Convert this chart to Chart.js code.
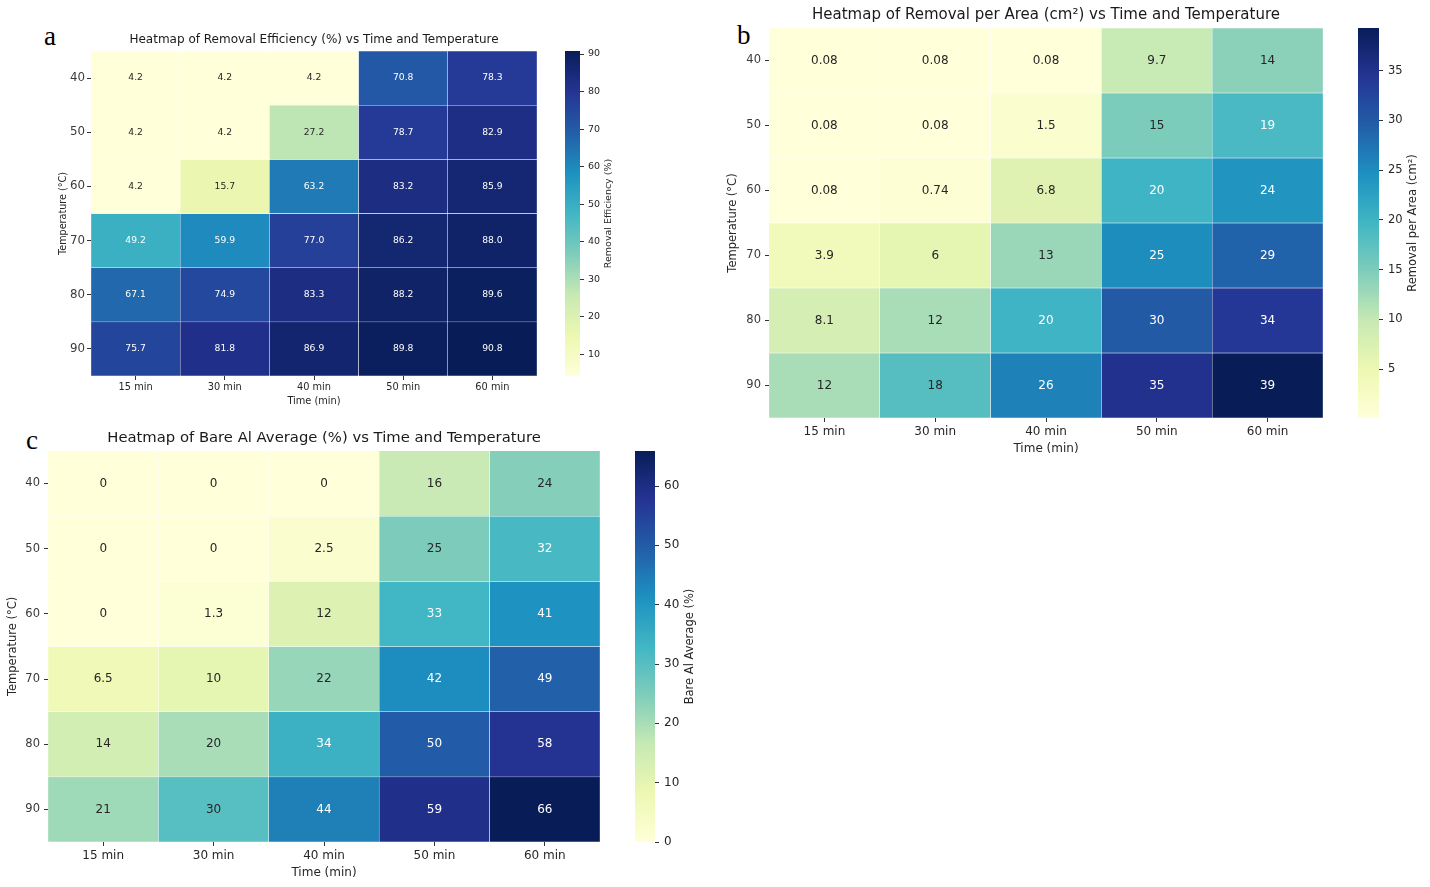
<!DOCTYPE html>
<html>
<head>
<meta charset="utf-8">
<script src="https://cdn.jsdelivr.net/npm/chart.js@4.4.1/dist/chart.umd.min.js"></script>
<style>
  body { margin: 0; background: #fff; width: 1430px; height: 887px; position: relative; overflow: hidden; }
  .box { position: absolute; }
  .letter { position: absolute; font-family: 'Liberation Serif', serif; font-size: 27px; line-height: 27px; color: #000; }
</style>
</head>
<body>
<div class="letter" style="left:44px;top:23px">a</div>
<div class="letter" style="left:737px;top:22px">b</div>
<div class="letter" style="left:26px;top:427px">c</div>

<div class="box" style="left:55px;top:31px;width:482px;height:378px"><canvas id="heatA"></canvas></div>
<div class="box" style="left:565px;top:35px;width:60px;height:357px"><canvas id="barA"></canvas></div>

<div class="box" style="left:724px;top:6px;width:599px;height:452px"><canvas id="heatB"></canvas></div>
<div class="box" style="left:1358px;top:12px;width:71px;height:422px"><canvas id="barB"></canvas></div>

<div class="box" style="left:4px;top:429px;width:596px;height:453px"><canvas id="heatC"></canvas></div>
<div class="box" style="left:635px;top:435px;width:70px;height:423px"><canvas id="barC"></canvas></div>

<script>
// columns and rows shared by all three maps
const times = ['15 min', '30 min', '40 min', '50 min', '60 min'];
const temps = ['40', '50', '60', '70', '80', '90'];

// a: removal efficiency (%), one row per temperature
const efficiency = [
    [4.2, 4.2, 4.2, 70.8, 78.3],
    [4.2, 4.2, 27.2, 78.7, 82.9],
    [4.2, 15.7, 63.2, 83.2, 85.9],
    [49.2, 59.9, 77.0, 86.2, 88.0],
    [67.1, 74.9, 83.3, 88.2, 89.6],
    [75.7, 81.8, 86.9, 89.8, 90.8]
];

// b: removal per area (cm²)
const removalArea = [
    [0.08, 0.08, 0.08, 9.7, 14],
    [0.08, 0.08, 1.5, 15, 19],
    [0.08, 0.74, 6.8, 20, 24],
    [3.9, 6, 13, 25, 29],
    [8.1, 12, 20, 30, 34],
    [12, 18, 26, 35, 39.3]
];

// c: bare Al average (%)
const bareAl = [
    [0, 0, 0, 16, 24],
    [0, 0, 2.5, 25, 32],
    [0, 1.3, 12, 33, 41],
    [6.5, 10, 22, 42, 49],
    [14, 20, 34, 50, 58],
    [21, 30, 44, 59, 65.9]
];

// colorbar ticks
const efficiencyTicks = [10, 20, 30, 40, 50, 60, 70, 80, 90];
const areaTicks = [5, 10, 15, 20, 25, 30, 35];
const bareTicks = [0, 10, 20, 30, 40, 50, 60];

// YlGnBu colormap
const ylgnbuStops = ['#ffffd9', '#edf8b1', '#c7e9b4', '#7fcdbb', '#41b6c4', '#1d91c0', '#225ea8', '#253494', '#081d58'];
const stopRgb = ylgnbuStops.map(h => [1, 3, 5].map(i => parseInt(h.substr(i, 2), 16)));

function ylgnbu(t) {
    t = Math.min(1, Math.max(0, t)) * (stopRgb.length - 1);
    const i = Math.min(Math.floor(t), stopRgb.length - 2);
    const f = t - i;
    return stopRgb[i].map((c, k) => Math.round(c + (stopRgb[i + 1][k] - c) * f));
}

function luminance(rgb) {
    const lin = rgb.map(c => {
        c = c / 255;
        return c <= 0.03928 ? c / 12.92 : Math.pow((c + 0.055) / 1.055, 2.4);
    });
    return 0.2126 * lin[0] + 0.7152 * lin[1] + 0.0722 * lin[2];
}

const fmt1 = v => v.toFixed(1);
const fmt2g = v => String(parseFloat(v.toPrecision(2)));

Chart.defaults.font.family = "'DejaVu Sans', sans-serif";
Chart.defaults.color = '#262626';
Chart.defaults.animation = false;

// value text inside each cell
const cellLabels = {
    id: 'cellLabels',
    afterDatasetsDraw(chart, args, opts) {
        const ctx = chart.ctx;
        ctx.save();
        ctx.font = opts.size + "px 'DejaVu Sans', sans-serif";
        ctx.textAlign = 'center';
        ctx.textBaseline = 'middle';
        chart.data.datasets.forEach((ds, r) => {
            chart.getDatasetMeta(r).data.forEach((bar, c) => {
                const p = bar.getCenterPoint();
                ctx.fillStyle = ds.cellInk[c];
                ctx.fillText(ds.cellText[c], p.x, p.y);
            });
        });
        ctx.restore();
    }
};

// colorbar label, reading bottom to top
const cbarLabel = {
    id: 'cbarLabel',
    afterDraw(chart, args, opts) {
        const a = chart.chartArea;
        const ctx = chart.ctx;
        ctx.save();
        ctx.translate(a.right + opts.gap, (a.top + a.bottom) / 2);
        ctx.rotate(-Math.PI / 2);
        ctx.font = opts.size + "px 'DejaVu Sans', sans-serif";
        ctx.fillStyle = '#262626';
        ctx.textAlign = 'center';
        ctx.textBaseline = 'middle';
        ctx.fillText(opts.text, 0, 0);
        ctx.restore();
    }
};

function heatmap(id, values, o) {
    const flat = values.flat();
    const vmin = Math.min(...flat), vmax = Math.max(...flat);
    const datasets = temps.map((t, r) => {
        const cols = values[r].map(v => ylgnbu((v - vmin) / (vmax - vmin)));
        return {
            label: t,
            data: values[r].map(() => 1),
            backgroundColor: cols.map(c => 'rgb(' + c.join(',') + ')'),
            borderColor: '#ffffff',
            borderWidth: 0.5,
            borderSkipped: false,
            categoryPercentage: 1,
            barPercentage: 1,
            cellText: values[r].map(o.format),
            cellInk: cols.map(c => luminance(c) > 0.408 ? '#262626' : '#ffffff')
        };
    });
    new Chart(document.getElementById(id), {
        type: 'bar',
        data: { labels: times, datasets: datasets },
        options: {
            responsive: true,
            maintainAspectRatio: false,
            layout: { padding: 0 },
            plugins: {
                legend: { display: false },
                tooltip: { enabled: false },
                title: {
                    display: true,
                    text: o.title,
                    fullSize: false,
                    color: '#1a1a1a',
                    font: { size: o.titleSize, weight: 'normal' },
                    padding: { top: o.titleTop, bottom: o.titleBottom }
                },
                cellLabels: { size: o.cellSize }
            },
            scales: {
                x: {
                    stacked: true,
                    offset: true,
                    grid: { offset: false, drawOnChartArea: false, tickLength: 4, color: '#333' },
                    border: { display: false },
                    ticks: { font: { size: o.xTickSize }, padding: o.xPad, color: '#262626' },
                    title: { display: true, text: 'Time (min)', font: { size: o.xTitleSize }, padding: { top: 0, bottom: 2 } },
                    afterFit: s => { s.height = o.xHeight; }
                },
                y: { stacked: true, display: false, min: 0, max: temps.length, reverse: true },
                yc: {
                    type: 'category',
                    labels: temps,
                    position: 'left',
                    offset: true,
                    grid: { offset: false, drawOnChartArea: false, tickLength: 4, color: '#333' },
                    border: { display: false },
                    ticks: { font: { size: o.yTickSize }, padding: o.yPad, color: '#3a3a3a' },
                    title: { display: true, text: 'Temperature (°C)', font: { size: o.yTitleSize }, padding: { top: o.yTitlePad, bottom: 0 } },
                    afterFit: s => { s.width = o.yWidth; }
                }
            }
        },
        plugins: [cellLabels]
    });
    return [vmin, vmax];
}

function colorbar(id, range, ticks, o) {
    new Chart(document.getElementById(id), {
        type: 'bar',
        data: {
            labels: [''],
            datasets: [{
                data: [[range[0], range[1]]],
                borderWidth: 0,
                categoryPercentage: 1,
                barPercentage: 1,
                backgroundColor: c => {
                    const a = c.chart.chartArea;
                    if (!a) return '#ffffd9';
                    const g = c.chart.ctx.createLinearGradient(0, a.bottom, 0, a.top);
                    ylgnbuStops.forEach((s, i) => g.addColorStop(i / (ylgnbuStops.length - 1), s));
                    return g;
                }
            }]
        },
        options: {
            responsive: true,
            maintainAspectRatio: false,
            layout: { padding: { top: 16, bottom: 16 } },
            plugins: {
                legend: { display: false },
                tooltip: { enabled: false },
                cbarLabel: { text: o.label, size: o.labelSize, gap: o.gap }
            },
            scales: {
                x: { display: false },
                y: {
                    position: 'right',
                    min: range[0],
                    max: range[1],
                    afterBuildTicks: s => { s.ticks = ticks.map(v => ({ value: v })); },
                    grid: { drawOnChartArea: false, tickLength: 4, color: '#333' },
                    border: { display: false },
                    ticks: { font: { size: o.tickSize }, padding: o.pad, color: '#262626' },
                    afterFit: s => { s.width = o.width; }
                }
            }
        },
        plugins: [cbarLabel]
    });
}

const rangeA = heatmap('heatA', efficiency, {
    title: 'Heatmap of Removal Efficiency (%) vs Time and Temperature',
    format: fmt1, titleSize: 12, titleTop: 1.8, titleBottom: 3.8,
    cellSize: 9.2, xTickSize: 9.8, xTitleSize: 9.8, xPad: 1.5, xHeight: 33,
    yTickSize: 11.8, yTitleSize: 9.6, yTitlePad: 2.8, yPad: 2, yWidth: 36
});
colorbar('barA', rangeA, efficiencyTicks, {
    label: 'Removal Efficiency (%)', labelSize: 9.5, gap: 29, tickSize: 9.5, pad: 4, width: 45
});

const rangeB = heatmap('heatB', removalArea, {
    title: 'Heatmap of Removal per Area (cm²) vs Time and Temperature',
    format: fmt2g, titleSize: 15, titleTop: 0, titleBottom: 4,
    cellSize: 12, xTickSize: 12, xTitleSize: 12, xPad: 3, xHeight: 40,
    yTickSize: 11.5, yTitleSize: 11.5, yTitlePad: 2.1, yPad: 4, yWidth: 45
});
colorbar('barB', rangeB, areaTicks, {
    label: 'Removal per Area (cm²)', labelSize: 11.5, gap: 34, tickSize: 11.5, pad: 5, width: 50
});

const rangeC = heatmap('heatC', bareAl, {
    title: 'Heatmap of Bare Al Average (%) vs Time and Temperature',
    format: fmt2g, titleSize: 14.8, titleTop: 0.4, titleBottom: 3.7,
    cellSize: 12, xTickSize: 12, xTitleSize: 12, xPad: 2.5, xHeight: 40,
    yTickSize: 11.5, yTitleSize: 11.5, yTitlePad: 2.1, yPad: 4, yWidth: 44
});
colorbar('barC', rangeC, bareTicks, {
    label: 'Bare Al Average (%)', labelSize: 11.5, gap: 35, tickSize: 12, pad: 5, width: 50
});
</script>
</body>
</html>
